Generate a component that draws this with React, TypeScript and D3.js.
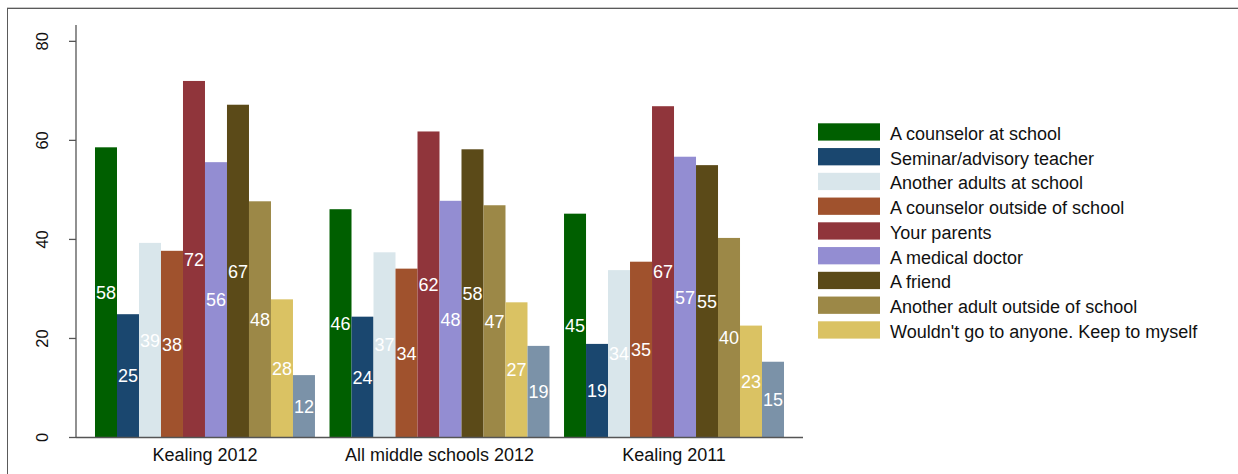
import React from "react";
import * as d3 from "d3";

const groups = ["Kealing 2012", "All middle schools 2012", "Kealing 2011"];

const seriesNames = [
  "A counselor at school",
  "Seminar/advisory teacher",
  "Another adults at school",
  "A counselor outside of school",
  "Your parents",
  "A medical doctor",
  "A friend",
  "Another adult outside of school",
  "Wouldn't go to anyone. Keep to myself",
  "Other",
];

const legendCount = 9;

const colors = [
  "#005f00",
  "#1a476f",
  "#d9e6eb",
  "#a0522d",
  "#90353b",
  "#938dd2",
  "#5b4a18",
  "#9c8847",
  "#dac263",
  "#7b92a8",
];

// values per group (rows) x series (columns)
const kealing2012 = [58.6, 24.9, 39.3, 37.7, 72.0, 55.6, 67.2, 47.7, 27.9, 12.6];
const allMiddle2012 = [46.1, 24.4, 37.4, 34.1, 61.8, 47.8, 58.2, 46.9, 27.3, 18.5];
const kealing2011 = [45.2, 18.9, 33.8, 35.5, 66.9, 56.7, 55.0, 40.3, 22.6, 15.3];

const labels2012 = [58, 25, 39, 38, 72, 56, 67, 48, 28, 12];
const labelsAll2012 = [46, 24, 37, 34, 62, 48, 58, 47, 27, 19];
const labels2011 = [45, 19, 34, 35, 67, 57, 55, 40, 23, 15];

const values = [kealing2012, allMiddle2012, kealing2011];
const barLabels = [labels2012, labelsAll2012, labels2011];

const yTicks = [0, 20, 40, 60, 80];

const FONT = "'Liberation Sans', Arial, Helvetica, sans-serif";

export default function App() {
  const W = 1238;
  const H = 474;
  const x0 = 76;
  const x1 = 803;
  const yBottom = 437.5;
  const yTop = 25;

  const y = d3.scaleLinear().domain([0, 83.3]).range([yBottom, yTop]);
  const gx = d3
    .scaleBand<string>()
    .domain(groups)
    .range([x0, x1])
    .paddingInner(0.062)
    .paddingOuter(0.081);
  const sx = d3
    .scaleBand<number>()
    .domain(d3.range(seriesNames.length))
    .range([0, gx.bandwidth()])
    .padding(0);

  const legendX = 818;
  const legendY = 123.3;
  const legendStep = 24.75;

  return (
    <svg
      width={W}
      height={H}
      style={{ position: "absolute", left: 0, top: 0, background: "#fff" }}
      fontFamily={FONT}
    >
      <rect x={0} y={0} width={W} height={H} fill="#fff" />
      {/* outer frame */}
      <rect x={7.5} y={8.5} width={W + 20} height={H + 20} fill="none" stroke="#5a5a5a" strokeWidth={1} />
      <line x1={7} x2={W} y1={7.5} y2={7.5} stroke="#c8c8c8" />

      {/* bars */}
      {groups.map((g, gi) => (
        <g key={g} transform={`translate(${gx(g)},0)`}>
          {values[gi].map((v, si) => (
            <rect
              key={si}
              x={sx(si)}
              y={y(v)}
              width={sx.bandwidth()}
              height={y(0) - y(v)}
              fill={colors[si]}
            />
          ))}
          {values[gi].map((v, si) => (
            <text
              key={"l" + si}
              x={(sx(si) as number) + sx.bandwidth() / 2}
              y={(y(v) + y(0)) / 2}
              dy="0.36em"
              textAnchor="middle"
              fill="#fff"
              fontSize={18}
            >
              {barLabels[gi][si]}
            </text>
          ))}
        </g>
      ))}

      {/* y axis */}
      <line x1={x0} x2={x0} y1={yTop} y2={yBottom} stroke="#555" strokeWidth={1.3} />
      {yTicks.map((t) => (
        <g key={t}>
          <line x1={x0 - 7} x2={x0} y1={y(t)} y2={y(t)} stroke="#555" strokeWidth={1.3} />
          <text
            transform={`translate(${42},${y(t)}) rotate(-90)`}
            dy="0.36em"
            textAnchor="middle"
            fontSize={16.5}
            fill="#111"
          >
            {t}
          </text>
        </g>
      ))}

      {/* x axis */}
      <line x1={x0} x2={x1} y1={yBottom} y2={yBottom} stroke="#555" strokeWidth={1.3} />
      {groups.map((g) => (
        <text
          key={g}
          x={(gx(g) as number) + gx.bandwidth() / 2}
          y={461}
          textAnchor="middle"
          fontSize={18}
          fill="#111"
        >
          {g}
        </text>
      ))}

      {/* legend */}
      {seriesNames.slice(0, legendCount).map((n, i) => (
        <g key={n} transform={`translate(${legendX},${legendY + i * legendStep})`}>
          <rect x={0} y={0} width={62} height={17.3} fill={colors[i]} />
          <text x={72} y={16.7} fontSize={18} fill="#111">
            {n}
          </text>
        </g>
      ))}
    </svg>
  );
}
